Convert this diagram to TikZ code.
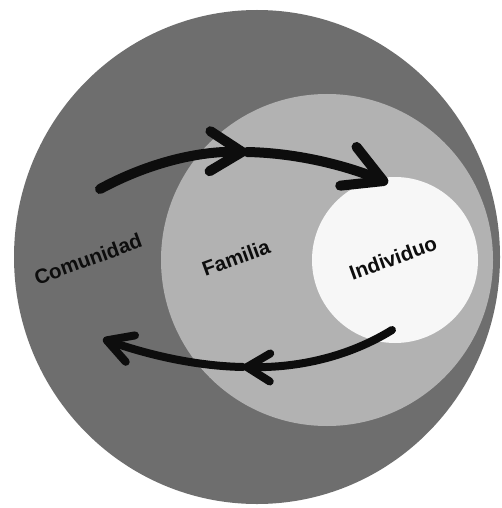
\documentclass[tikz,border=0pt]{standalone}
\usepackage{fontspec}
\setmainfont{Liberation Sans}
\usetikzlibrary{arrows.meta}
\definecolor{commgray}{HTML}{6E6E6E}
\definecolor{famgray}{HTML}{B2B2B2}
\definecolor{selfgray}{HTML}{F7F7F7}
\definecolor{ink}{HTML}{0D0D0D}
\begin{document}
\begin{tikzpicture}[x=1pt,y=-1pt,
  tag/.style={font=\fontsize{20.5}{20.5}\selectfont\bfseries, text=ink, rotate=20, inner sep=0pt},
  heavy/.style={draw=ink, line width=10pt, line cap=round},
  light/.style={draw=ink, line width=8pt, line cap=round},
  bigbarb/.style 2 args={-{Straight Barb[length=#1pt, width=#2pt, line cap=round, line join=round]}},
  smallbarb/.style 2 args={-{Straight Barb[length=#1pt, width=#2pt, line cap=round, line join=round]}}]
\useasboundingbox (0,0) rectangle (502,508);

% nested spheres
\fill[commgray] (257,257) ellipse [x radius=243pt, y radius=247pt];
\fill[famgray] (327,260) circle [radius=166pt];
\fill[selfgray] (395,260) circle [radius=83pt];

% labels
\node[tag] (com) at (88,259) {Comunidad};
\node[tag] (fam) at (236,258) {Familia};
\node[tag] (ind) at (393,258) {Individuo};

% path points of the two flows
\coordinate (inStart) at (100,189);
\coordinate (inMid) at (247,152);
\coordinate (inEnd) at (388,183);
\coordinate (outStart) at (392,330);
\coordinate (outMid) at (243,367);
\coordinate (outEnd) at (103,339);

% inward flow: community -> family -> individual
\draw[heavy, bigbarb={32}{40}] (inStart) .. controls (150,162) and (200,151) .. (inMid);
\draw[heavy, bigbarb={38}{42}] (inMid) .. controls (300,153) and (350,167) .. (inEnd);

% outward flow: individual -> family -> community
\draw[light, smallbarb={23}{28}] (outStart) .. controls (350,356) and (300,368) .. (outMid);
\draw[light, smallbarb={25}{28}] (outMid) .. controls (190,366) and (140,352) .. (outEnd);
\end{tikzpicture}
\end{document}
